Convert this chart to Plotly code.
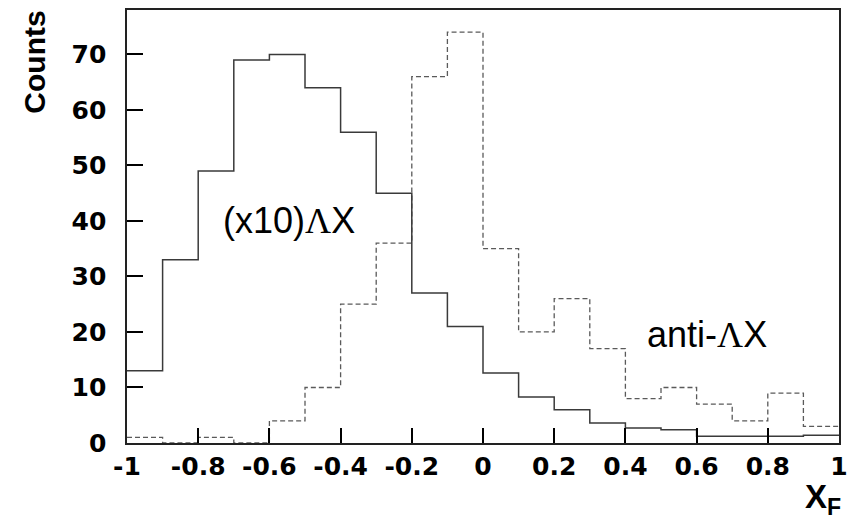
import plotly.graph_objects as go

# Histogram binning in x_F: 20 bins of width 0.1 from -1 to 1
bin_low = [-1.0, -0.9, -0.8, -0.7, -0.6, -0.5, -0.4, -0.3, -0.2, -0.1,
           0.0, 0.1, 0.2, 0.3, 0.4, 0.5, 0.6, 0.7, 0.8, 0.9]
bin_high_end = 1.0

# Lambda X counts (scaled x10), solid histogram
lambda_counts = [13, 33, 49, 69, 70, 64, 56, 45, 27, 21,
                 12.6, 8.3, 6, 3.6, 2.7, 2.4, 1.2, 1.2, 1.2, 1.4]

# anti-Lambda X counts, dashed histogram
antilambda_counts = [1, 0, 1, 0, 4, 10, 25, 36, 66, 74,
                     35, 20, 26, 17, 8, 10, 7, 4, 9, 3]

# x tick labels use a plain hyphen for negative values
x_tick_text = ["-1", "-0.8", "-0.6", "-0.4", "-0.2"]
x_tick_default = ["\u22121", "\u22120.8", "\u22120.6", "\u22120.4", "\u22120.2"]


def step_xy(counts):
    """Edges and values for an 'hv' step outline of a histogram."""
    xs = list(bin_low) + [bin_high_end]
    ys = list(counts) + [counts[-1]]
    return xs, ys


fig = go.Figure()

xs, ys = step_xy(antilambda_counts)
fig.add_trace(go.Scatter(
    x=xs, y=ys, mode="lines", line_shape="hv",
    line=dict(color="#5a5a5a", width=1.3, dash="5px,3px"),
    showlegend=False, hoverinfo="skip",
))

xs, ys = step_xy(lambda_counts)
fig.add_trace(go.Scatter(
    x=xs, y=ys, mode="lines", line_shape="hv",
    line=dict(color="#3a3a3a", width=1.5),
    showlegend=False, hoverinfo="skip",
))

tick_font = dict(family="DejaVu Sans", size=25, color="black", weight="bold")

fig.update_xaxes(
    range=[-1, 1], showgrid=False, zeroline=False,
    showline=True, linecolor="#222", linewidth=2, mirror=True,
    ticks="inside", ticklen=15, tickwidth=1.5, tickcolor="black",
    tickmode="linear", tick0=-1, dtick=0.2,
    labelalias=dict(zip(x_tick_default, x_tick_text)),
    tickfont=tick_font,
)
fig.update_yaxes(
    range=[0, 78], showgrid=False, zeroline=False,
    showline=True, linecolor="#222", linewidth=2, mirror=True,
    ticks="inside", ticklen=16, tickwidth=1.5, tickcolor="black",
    tickmode="linear", tick0=0, dtick=10,
    ticksuffix="\u00a0\u2009",
    tickfont=tick_font,
)

label_font = dict(family="Liberation Sans", size=36, color="black")

fig.add_annotation(
    x=-0.735, y=40, xref="x", yref="y", xanchor="left", yanchor="middle",
    text="(x10)<span style='font-family:Liberation Serif'>Λ</span>X",
    showarrow=False, font=label_font,
)
fig.add_annotation(
    x=0.455, y=19.6, xref="x", yref="y", xanchor="left", yanchor="middle",
    text="anti-<span style='font-family:Liberation Serif'>Λ</span>X",
    showarrow=False, font=label_font,
)

# Axis titles
fig.add_annotation(
    x=-0.13, y=1.003, xref="paper", yref="paper",
    xanchor="center", yanchor="top", textangle=-90,
    text="<b>Counts</b>", showarrow=False,
    font=dict(family="Liberation Sans", size=30, color="black"),
)
fig.add_annotation(
    x=1.006, y=-0.182, xref="paper", yref="paper",
    xanchor="right", yanchor="bottom",
    text="<b>X<sub>F</sub></b>", showarrow=False,
    font=dict(family="Liberation Sans", size=33, color="black"),
)

fig.update_layout(
    width=865, height=522,
    margin=dict(l=127, r=26, t=8, b=79),
    plot_bgcolor="white", paper_bgcolor="white",
)

fig.write_html("out.html")
